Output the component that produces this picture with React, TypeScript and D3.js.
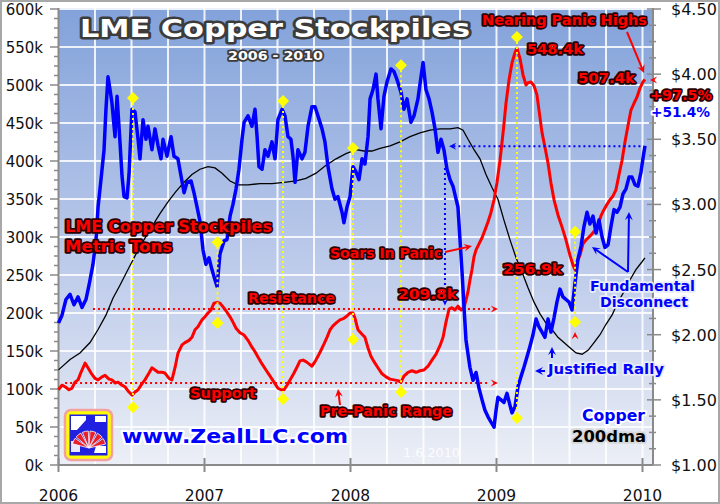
import React from 'react';
import * as d3 from 'd3';

type P = [number, number];

// Copper price (US$/lb), decimal year
const copperSeries: P[] = [[2006.000,2.09],[2006.024,2.15],[2006.051,2.27],[2006.079,2.31],[2006.106,2.23],[2006.134,2.29],[2006.161,2.21],[2006.188,2.27],[2006.209,2.38],[2006.236,2.54],[2006.257,2.73],[2006.271,2.98],[2006.291,3.19],[2006.312,3.42],[2006.325,3.73],[2006.339,3.98],[2006.353,3.88],[2006.366,3.78],[2006.387,3.52],[2006.401,3.83],[2006.421,3.48],[2006.435,3.22],[2006.449,3.06],[2006.469,3.05],[2006.483,3.23],[2006.503,3.73],[2006.524,3.71],[2006.545,3.50],[2006.558,3.35],[2006.579,3.65],[2006.599,3.50],[2006.613,3.60],[2006.640,3.42],[2006.661,3.58],[2006.682,3.45],[2006.702,3.35],[2006.716,3.50],[2006.743,3.37],[2006.771,3.52],[2006.791,3.37],[2006.818,3.35],[2006.839,3.22],[2006.860,3.09],[2006.880,3.17],[2006.908,3.18],[2006.928,3.09],[2006.949,2.98],[2006.969,2.87],[2006.990,2.65],[2007.010,2.54],[2007.031,2.59],[2007.051,2.50],[2007.072,2.42],[2007.086,2.37],[2007.106,2.62],[2007.134,2.72],[2007.154,2.73],[2007.175,2.91],[2007.195,3.00],[2007.216,3.12],[2007.236,3.27],[2007.257,3.50],[2007.271,3.63],[2007.298,3.68],[2007.325,3.60],[2007.346,3.73],[2007.360,3.52],[2007.373,3.29],[2007.394,3.27],[2007.414,3.42],[2007.435,3.37],[2007.462,3.48],[2007.483,3.35],[2007.503,3.65],[2007.531,3.73],[2007.551,3.68],[2007.572,3.52],[2007.592,3.50],[2007.606,3.37],[2007.620,3.17],[2007.640,3.42],[2007.668,3.35],[2007.688,3.40],[2007.709,3.60],[2007.736,3.75],[2007.757,3.75],[2007.777,3.68],[2007.805,3.58],[2007.825,3.48],[2007.846,3.29],[2007.873,3.12],[2007.894,3.04],[2007.914,3.06],[2007.942,2.94],[2007.955,2.86],[2007.976,2.98],[2007.997,3.06],[2008.017,3.29],[2008.038,3.25],[2008.058,3.19],[2008.079,3.35],[2008.099,3.31],[2008.120,3.52],[2008.134,3.81],[2008.154,3.88],[2008.175,4.00],[2008.188,3.81],[2008.209,3.58],[2008.229,3.83],[2008.250,3.94],[2008.277,4.04],[2008.298,4.02],[2008.318,3.96],[2008.346,3.86],[2008.366,3.73],[2008.387,3.81],[2008.414,3.63],[2008.435,3.68],[2008.462,3.81],[2008.483,3.98],[2008.497,4.09],[2008.517,3.88],[2008.538,3.81],[2008.558,3.71],[2008.579,3.58],[2008.599,3.40],[2008.620,3.50],[2008.640,3.42],[2008.661,3.27],[2008.682,3.19],[2008.702,3.14],[2008.723,3.04],[2008.736,2.98],[2008.750,2.73],[2008.764,2.48],[2008.777,2.22],[2008.791,1.96],[2008.805,1.85],[2008.818,1.75],[2008.839,1.65],[2008.860,1.71],[2008.880,1.59],[2008.901,1.50],[2008.921,1.42],[2008.942,1.37],[2008.962,1.33],[2008.983,1.29],[2008.997,1.42],[2009.010,1.52],[2009.031,1.50],[2009.051,1.48],[2009.072,1.55],[2009.092,1.46],[2009.106,1.40],[2009.127,1.45],[2009.147,1.60],[2009.168,1.68],[2009.188,1.75],[2009.209,1.83],[2009.229,1.91],[2009.250,2.00],[2009.271,2.12],[2009.291,2.06],[2009.312,2.02],[2009.332,1.98],[2009.353,2.12],[2009.373,2.02],[2009.394,2.13],[2009.414,2.25],[2009.435,2.35],[2009.455,2.29],[2009.476,2.27],[2009.497,2.25],[2009.517,2.19],[2009.538,2.40],[2009.558,2.58],[2009.579,2.68],[2009.599,2.83],[2009.620,2.94],[2009.640,2.85],[2009.661,2.91],[2009.682,2.78],[2009.702,2.88],[2009.723,2.75],[2009.743,2.67],[2009.764,2.69],[2009.784,2.83],[2009.805,2.96],[2009.825,2.94],[2009.846,2.98],[2009.866,3.08],[2009.887,3.12],[2009.908,3.21],[2009.928,3.21],[2009.949,3.15],[2009.969,3.14],[2009.990,3.25],[2010.003,3.35],[2010.017,3.45]];

// LME copper stockpiles (thousand metric tons)
const stockSeries: P[] = [[2006.000,99],[2006.024,105],[2006.045,103],[2006.072,99],[2006.092,101],[2006.113,109],[2006.134,112],[2006.154,122],[2006.182,134],[2006.202,128],[2006.223,121],[2006.250,114],[2006.271,112],[2006.298,116],[2006.319,118],[2006.346,113],[2006.366,112],[2006.387,108],[2006.408,109],[2006.435,105],[2006.455,103],[2006.483,96],[2006.503,92],[2006.524,96],[2006.545,99],[2006.572,107],[2006.592,112],[2006.620,121],[2006.640,128],[2006.661,125],[2006.682,122],[2006.709,122],[2006.729,121],[2006.757,114],[2006.777,112],[2006.798,128],[2006.818,147],[2006.846,158],[2006.866,161],[2006.894,164],[2006.914,168],[2006.935,178],[2006.955,182],[2006.983,191],[2007.003,195],[2007.024,200],[2007.045,204],[2007.065,213],[2007.086,214],[2007.106,213],[2007.127,208],[2007.147,203],[2007.175,195],[2007.195,188],[2007.216,180],[2007.243,174],[2007.271,171],[2007.298,164],[2007.325,155],[2007.346,149],[2007.366,142],[2007.394,133],[2007.421,125],[2007.449,117],[2007.476,109],[2007.503,101],[2007.524,99],[2007.545,99],[2007.565,105],[2007.586,112],[2007.613,121],[2007.634,129],[2007.654,137],[2007.675,138],[2007.695,136],[2007.716,133],[2007.736,130],[2007.757,136],[2007.777,143],[2007.798,151],[2007.818,159],[2007.839,168],[2007.860,178],[2007.880,183],[2007.908,188],[2007.928,191],[2007.955,193],[2007.976,196],[2007.997,200],[2008.017,200],[2008.031,193],[2008.051,178],[2008.079,172],[2008.099,168],[2008.120,154],[2008.140,143],[2008.161,136],[2008.188,128],[2008.216,120],[2008.243,116],[2008.271,113],[2008.298,112],[2008.325,111],[2008.346,109],[2008.366,117],[2008.394,122],[2008.421,124],[2008.449,122],[2008.476,124],[2008.503,125],[2008.531,130],[2008.558,138],[2008.586,146],[2008.613,157],[2008.634,168],[2008.654,188],[2008.675,205],[2008.695,207],[2008.716,204],[2008.736,209],[2008.757,204],[2008.777,207],[2008.791,217],[2008.805,228],[2008.818,243],[2008.832,257],[2008.846,274],[2008.860,283],[2008.880,291],[2008.901,299],[2008.921,309],[2008.942,320],[2008.962,332],[2008.983,349],[2009.003,371],[2009.024,401],[2009.045,437],[2009.065,476],[2009.086,507],[2009.106,529],[2009.127,543],[2009.140,548.4],[2009.161,535],[2009.182,513],[2009.202,500],[2009.216,503],[2009.236,504],[2009.257,499],[2009.277,487],[2009.291,467],[2009.312,437],[2009.332,418],[2009.353,397],[2009.373,371],[2009.394,349],[2009.421,329],[2009.449,313],[2009.476,296],[2009.503,276],[2009.524,263],[2009.538,256.9],[2009.551,267],[2009.572,276],[2009.592,291],[2009.613,296],[2009.634,300],[2009.654,304],[2009.675,309],[2009.695,316],[2009.716,328],[2009.736,336],[2009.757,343],[2009.777,349],[2009.798,354],[2009.818,362],[2009.839,382],[2009.860,401],[2009.880,425],[2009.901,447],[2009.921,467],[2009.942,476],[2009.962,484],[2009.983,496],[2010.003,504],[2010.017,507.4]];

// Copper 200-day moving average (US$/lb)
const dmaSeries: P[] = [[2006.000,1.73],[2006.079,1.81],[2006.147,1.86],[2006.216,1.94],[2006.271,2.04],[2006.325,2.15],[2006.373,2.28],[2006.421,2.38],[2006.476,2.50],[2006.531,2.62],[2006.586,2.73],[2006.640,2.83],[2006.695,2.93],[2006.750,3.02],[2006.805,3.10],[2006.860,3.17],[2006.914,3.23],[2006.969,3.27],[2007.024,3.29],[2007.072,3.28],[2007.120,3.24],[2007.175,3.18],[2007.229,3.15],[2007.298,3.15],[2007.380,3.16],[2007.462,3.16],[2007.545,3.17],[2007.627,3.18],[2007.695,3.20],[2007.764,3.24],[2007.832,3.30],[2007.901,3.35],[2007.969,3.39],[2008.038,3.42],[2008.092,3.41],[2008.147,3.41],[2008.202,3.43],[2008.271,3.45],[2008.339,3.48],[2008.408,3.52],[2008.476,3.55],[2008.545,3.57],[2008.613,3.58],[2008.682,3.58],[2008.736,3.59],[2008.771,3.57],[2008.805,3.50],[2008.846,3.42],[2008.887,3.35],[2008.928,3.23],[2008.969,3.13],[2009.010,3.04],[2009.051,2.88],[2009.092,2.73],[2009.134,2.59],[2009.175,2.48],[2009.216,2.36],[2009.257,2.25],[2009.298,2.16],[2009.339,2.09],[2009.380,2.04],[2009.421,1.98],[2009.462,1.94],[2009.503,1.90],[2009.545,1.86],[2009.586,1.85],[2009.627,1.88],[2009.668,1.94],[2009.709,2.00],[2009.750,2.08],[2009.791,2.15],[2009.832,2.25],[2009.873,2.33],[2009.914,2.42],[2009.955,2.50],[2009.997,2.56],[2010.017,2.59]];

const yearTicks = [2006, 2007, 2008, 2009, 2010];
const leftTicks = [0, 50, 100, 150, 200, 250, 300, 350, 400, 450, 500, 550, 600];
const rightTicks = [1, 1.5, 2, 2.5, 3, 3.5, 4, 4.5];

// yellow connectors: year, top & bottom diamond levels (thousand tons scale)
const connYears = [2006.510, 2007.089, 2007.538, 2008.017, 2008.346, 2009.140, 2009.538];
const connTop = [483, 293, 479, 417, 526, 563, 307];
const connBottom = [76, 187, 87, 165, 96, 62, 188];

const resistanceLevel = 205.3;
const supportLevel = 107.9;
const panicLow = 209.8;
const copperRef = 3.446;

const RED = '#ff0000';
const BLUE = '#0000ff';
const FONT = '"DejaVu Sans", Verdana, sans-serif';

function OText(props: { x: number; y: number; t: string; size: number; w: number; fill: string; stroke: string; sw?: number; weight?: string; anchor?: string; opacity?: number }) {
  const { x, y, t, size, w, fill, stroke, sw = 3, weight = 'bold', anchor = 'start', opacity = 1 } = props;
  return (
    <text x={x} y={y} fontSize={size} fontFamily={FONT} fontWeight={weight} fill={fill} stroke={stroke}
      strokeWidth={sw} strokeLinejoin="round" paintOrder="stroke" textAnchor={anchor}
      textLength={w} lengthAdjust="spacingAndGlyphs" opacity={opacity}>{t}</text>
  );
}

function head(tx: number, ty: number, ang: number, color: string, size = 8, key?: string) {
  const a1 = ang + Math.PI - 0.45, a2 = ang + Math.PI + 0.45;
  const p = [[tx, ty], [tx + size * Math.cos(a1), ty + size * Math.sin(a1)], [tx + size * 0.55 * Math.cos(ang + Math.PI), ty + size * 0.55 * Math.sin(ang + Math.PI)], [tx + size * Math.cos(a2), ty + size * Math.sin(a2)]];
  return <polygon key={key} points={p.map(q => q.join(',')).join(' ')} fill={color} />;
}

function arrow(x1: number, y1: number, x2: number, y2: number, color: string, key: string) {
  const ang = Math.atan2(y2 - y1, x2 - x1);
  return (
    <g key={key}>
      <line x1={x1} y1={y1} x2={x2 - 4 * Math.cos(ang)} y2={y2 - 4 * Math.sin(ang)} stroke={color} strokeWidth={2} />
      {head(x2, y2, ang, color, 9)}
    </g>
  );
}

export default function App() {
  const W = 720, H = 504;
  const x = d3.scaleLinear().domain([2006, 2010.0685]).range([58.5, 652.5]);
  const yL = d3.scaleLinear().domain([0, 600]).range([465, 9]);
  const yR = d3.scaleLinear().domain([1, 4.5]).range([465, 9]);
  const lineL = d3.line<P>().x(d => x(d[0])).y(d => yL(d[1]));
  const lineR = d3.line<P>().x(d => x(d[0])).y(d => yR(d[1]));
  const plotL = 58.5, plotR = 653, plotT = 8, plotB = 465;

  const quarters = d3.range(2006.25, 2010.01, 0.25);
  const leftMinor = d3.range(0, 600.1, 12.5);
  const rightMinor = d3.range(1, 4.51, 0.125);

  const lineEnd = x(2008.955);

  return (
    <svg width={W} height={H} style={{ position: 'absolute', left: 0, top: 0 }} xmlns="http://www.w3.org/2000/svg">
      <defs>
        <linearGradient id="bg" x1="0" y1="0" x2="0" y2="1">
          <stop offset="0%" stopColor="#82a2da" />
          <stop offset="45%" stopColor="#b2c3e8" />
          <stop offset="80%" stopColor="#d5ddf0" />
          <stop offset="100%" stopColor="#eceff6" />
        </linearGradient>
      </defs>
      <rect x={1} y={1} width={W - 2} height={H - 2} fill="#ffffff" stroke="#a8a8a8" strokeWidth={2} />
      <rect x={plotL} y={plotT} width={plotR - plotL} height={plotB - plotT} fill="url(#bg)" />

      {/* grid */}
      {quarters.map(q => <line key={'vq' + q} x1={x(q)} x2={x(q)} y1={plotT} y2={plotB} stroke="#ffffff" strokeWidth={2} opacity={0.85} />)}
      {leftTicks.slice(1).map(t => <line key={'hg' + t} x1={plotL} x2={plotR} y1={yL(t)} y2={yL(t)} stroke="#ffffff" strokeWidth={2} opacity={0.85} />)}

      {/* axes */}
      <line x1={plotL} x2={plotL} y1={plotT} y2={plotB} stroke="#8a8a8a" strokeWidth={2} />
      <line x1={plotL} x2={plotR} y1={plotB} y2={plotB} stroke="#8a8a8a" strokeWidth={2} />
      <line x1={plotR} x2={plotR} y1={plotT} y2={plotB} stroke="#8a8a8a" strokeWidth={2} />
      {leftMinor.map(t => <line key={'lm' + t} x1={t % 50 === 0 ? 50 : 54} x2={plotL} y1={yL(t)} y2={yL(t)} stroke="#8a8a8a" strokeWidth={1.5} />)}
      {rightMinor.map(t => <line key={'rm' + t} x1={Math.abs(t * 2 - Math.round(t * 2)) < 1e-6 ? 647 : 649} x2={Math.abs(t * 2 - Math.round(t * 2)) < 1e-6 ? 661 : 656} y1={yR(t)} y2={yR(t)} stroke="#8a8a8a" strokeWidth={1.5} />)}
      {yearTicks.map(t => <line key={'xt' + t} x1={x(t)} x2={x(t)} y1={458} y2={472} stroke="#8a8a8a" strokeWidth={2} />)}

      {leftTicks.map(t => <text key={'lt' + t} x={43} y={yL(t) + 5.5} fontSize={15} fontFamily={FONT} fill="#111" textAnchor="end">{t + 'k'}</text>)}
      {rightTicks.map(t => <text key={'rt' + t} x={671} y={yR(t) + 6} fontSize={16} fontFamily={FONT} fill="#111">{'$' + t.toFixed(2)}</text>)}
      {yearTicks.map(t => <text key={'yt' + t} x={x(t)} y={501} fontSize={15.5} fontFamily={FONT} fill="#111" textAnchor="middle">{t}</text>)}

      {/* logo */}
      <g>
        <rect x={65} y={410} width={47} height={50} rx={6} fill="#ffff00" stroke="#f4a0a0" strokeWidth={2.5} />
        <rect x={69.5} y={414.5} width={38} height={41} fill="#2020e0" />
        <polygon points="71,416 86,416 86,420 77,430 71,430" fill="#ffffff" />
        <polygon points="71,441 80,441 80,452 71,452" fill="#ffffff" opacity={0.9} />
        <polygon points="95,416 106,416 106,422 95,422" fill="#ffffff" />
        <polygon points="96,446 106,446 106,453 94,453" fill="#ffffff" />
        {d3.range(0, 6).map(i => {
          const a0 = Math.PI + 0.25 + i * 0.46, a1 = a0 + 0.36, cx = 89, cy = 448, r = 17;
          return <path key={'fan' + i} d={`M${cx},${cy} L${cx + r * Math.cos(a0)},${cy + r * Math.sin(a0)} A${r},${r} 0 0 1 ${cx + r * Math.cos(a1)},${cy + r * Math.sin(a1)} Z`} fill="#e8202a" stroke="#ffffff" strokeWidth={0.8} />;
        })}
      </g>
      <OText x={122} y={443} t="www.ZealLLC.com" size={19} w={226} fill={BLUE} stroke="#ffffff" sw={4} />
      <OText x={403} y={457} t="1.6.2010" size={12} w={57} fill="#ffffff" stroke="none" sw={0} weight="normal" opacity={0.85} />

      {/* red dotted support / resistance */}
      <line x1={x(2006.236)} x2={lineEnd} y1={yL(resistanceLevel)} y2={yL(resistanceLevel)} stroke={RED} strokeWidth={2} strokeDasharray="2,3" />
      <line x1={x(2006.045)} x2={lineEnd} y1={yL(supportLevel)} y2={yL(supportLevel)} stroke={RED} strokeWidth={2} strokeDasharray="2,3" />
      {head(x(2009.01), yL(resistanceLevel), 0, RED, 8, 'hr1')}
      {head(x(2009.01), yL(supportLevel), 0, RED, 8, 'hr2')}

      {/* series */}
      <path d={lineR(dmaSeries) || ''} fill="none" stroke="#000000" strokeWidth={1.3} />
      <path d={lineL(stockSeries) || ''} fill="none" stroke={RED} strokeWidth={3} strokeLinejoin="round" />
      <path d={lineR(copperSeries) || ''} fill="none" stroke={BLUE} strokeWidth={3.5} strokeLinejoin="round" />

      {/* blue dotted reference lines */}
      <line x1={x(2008.705)} x2={x(2010.0)} y1={yR(copperRef)} y2={yR(copperRef)} stroke={BLUE} strokeWidth={2} strokeDasharray="2,3" />
      {head(x(2008.675), yR(copperRef), Math.PI, BLUE, 8, 'hb1')}
      <line x1={x(2008.647)} x2={x(2008.647)} y1={yR(3.28)} y2={yL(panicLow) - 6} stroke={BLUE} strokeWidth={2} strokeDasharray="2,3" />
      {head(x(2008.647), yL(panicLow), Math.PI / 2, BLUE, 8, 'hb2')}

      {/* yellow connectors */}
      {connYears.map((yr, i) => (
        <g key={'cn' + i}>
          <line x1={x(yr)} x2={x(yr)} y1={yL(connTop[i])} y2={yL(connBottom[i])} stroke="#ffff00" strokeWidth={2} strokeDasharray="2,3" />
          {[connTop[i], connBottom[i]].map((v, j) => (
            <polygon key={j} points={`${x(yr)},${yL(v) - 6} ${x(yr) + 6},${yL(v)} ${x(yr)},${yL(v) + 6} ${x(yr) - 6},${yL(v)}`} fill="#ffff00" />
          ))}
        </g>
      ))}

      {/* arrows */}
      {arrow(445, 252, 472, 246, RED, 'a1')}
      {arrow(340, 405, 338, 389, RED, 'a2')}
      {arrow(627, 32, 644, 73, RED, 'a3')}
      {head(x(2009.538), 332, -Math.PI / 2, RED, 8, 'hcaret')}
      {head(650, 80, Math.PI, RED, 8, 'hend')}
      {arrow(628, 272, 592, 247, BLUE, 'b1')}
      {arrow(628, 272, 629, 212, BLUE, 'b2')}
      {arrow(552, 358, 552, 347, BLUE, 'b3')}
      {arrow(545, 371, 535, 371, BLUE, 'b4')}

      {/* title */}
      <OText x={80} y={37} t="LME Copper Stockpiles" size={25} w={390} fill="#ffffff" stroke="#3c3c3c" sw={5} />
      <OText x={228} y={60} t="2006 - 2010" size={13} w={95} fill="#ffffff" stroke="#3c3c3c" sw={3.5} />

      {/* red labels */}
      <OText x={65} y={232} t="LME Copper Stockpiles" size={15} w={207} fill={RED} stroke="#2a0000" sw={3.5} />
      <OText x={65} y={252} t="Metric Tons" size={15} w={107} fill={RED} stroke="#2a0000" sw={3.5} />
      <OText x={248} y={303} t="Resistance" size={14} w={87} fill={RED} stroke="#2a0000" sw={3.5} />
      <OText x={190} y={398} t="Support" size={14} w={66} fill={RED} stroke="#2a0000" sw={3.5} />
      <OText x={320} y={416} t="Pre-Panic Range" size={14} w={132} fill={RED} stroke="#2a0000" sw={3.5} />
      <OText x={330} y={258} t="Soars In Panic" size={14} w={112} fill={RED} stroke="#2a0000" sw={3.5} />
      <OText x={398} y={299} t="209.8k" size={14} w={59} fill={RED} stroke="#2a0000" sw={3.5} />
      <OText x={503} y={274} t="256.9k" size={14} w={59} fill={RED} stroke="#2a0000" sw={3.5} />
      <OText x={527} y={54} t="548.4k" size={14} w={56} fill={RED} stroke="#2a0000" sw={3.5} />
      <OText x={482} y={25} t="Nearing Panic Highs" size={14} w={165} fill={RED} stroke="#2a0000" sw={3.5} />
      <OText x={578} y={83} t="507.4k" size={14} w={57} fill={RED} stroke="#2a0000" sw={3.5} />
      <OText x={650} y={100} t="+97.5%" size={14} w={62} fill={RED} stroke="#2a0000" sw={3.5} />

      {/* blue labels */}
      <OText x={651} y={117} t="+51.4%" size={14} w={59} fill={BLUE} stroke="#ffffff" sw={3.5} />
      <OText x={590} y={291} t="Fundamental" size={14} w={105} fill={BLUE} stroke="#e8ecf6" sw={3.5} />
      <OText x={600} y={307} t="Disconnect" size={14} w={88} fill={BLUE} stroke="#e8ecf6" sw={3.5} />
      <OText x={548} y={374} t="Justified Rally" size={14} w={116} fill={BLUE} stroke="#e8ecf6" sw={3.5} />
      <OText x={582} y={421} t="Copper" size={15} w={63} fill={BLUE} stroke="#ffffff" sw={3.5} />
      <OText x={572} y={442} t="200dma" size={15} w={74} fill="#000000" stroke="#d8d8d8" sw={3.5} />
    </svg>
  );
}
